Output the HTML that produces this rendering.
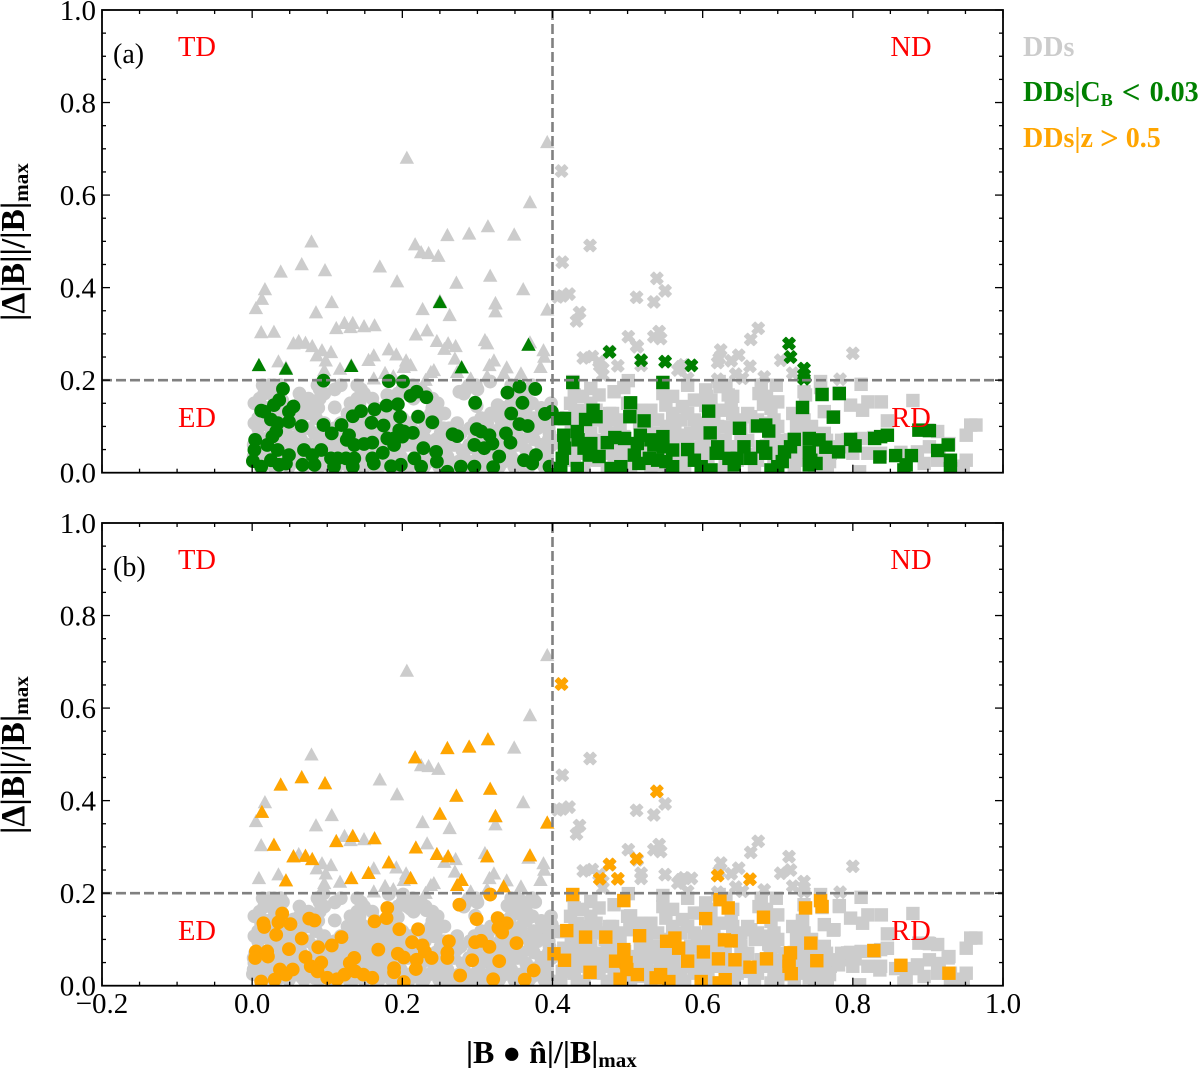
<!DOCTYPE html>
<html>
<head>
<meta charset="utf-8">
<title>DD scatter</title>
<style>
html,body{margin:0;padding:0;background:#fff;}
svg{display:block;}
text{font-family:"Liberation Serif","DejaVu Serif",serif;}
</style>
</head>
<body>
<svg id="chart" xmlns="http://www.w3.org/2000/svg" width="1200" height="1068" viewBox="0 0 1200 1068">
<rect x="0" y="0" width="1200" height="1068" fill="#fff"/>
<defs>
<clipPath id="clip-a"><rect x="102" y="10" width="901" height="462.7"/></clipPath>
<clipPath id="clip-b"><rect x="102" y="523" width="901" height="462.7"/></clipPath>
</defs>
<g id="panel-a"></g>
<g id="panel-b"></g>
<text x="1023" y="56" font-size="28" font-weight="bold" fill="#cccccc">DDs</text>
<text x="1023" y="101" font-size="28" font-weight="bold" fill="#008000">DDs|C<tspan font-size="18" dy="5">B</tspan><tspan dy="-5" dx="2"> </tspan><tspan font-size="33" dy="2">&lt;</tspan><tspan dy="-2" dx="2"> 0.03</tspan></text>
<text x="1023" y="147" font-size="28" font-weight="bold" fill="#ffa500">DDs|z <tspan font-size="33" dy="2">&gt;</tspan><tspan dy="-2"> 0.5</tspan></text>
<text transform="translate(24,321) rotate(-90)" font-size="33.5" font-weight="bold" fill="#000">|Δ|B||/|B|<tspan font-size="21" dy="4">max</tspan></text>
<text transform="translate(24,834) rotate(-90)" font-size="33.5" font-weight="bold" fill="#000">|Δ|B||/|B|<tspan font-size="21" dy="4">max</tspan></text>
<text x="466" y="1063" font-size="32" font-weight="bold" fill="#000">|B <tspan font-size="31">●</tspan> n̂|/|B|<tspan font-size="21" dy="4">max</tspan></text>
</svg>
<script>
const xTickValues = [-0.2, 0.0, 0.2, 0.4, 0.6, 0.8, 1.0];
const xTickLabels = ['−0.2', '0.0', '0.2', '0.4', '0.6', '0.8', '1.0'];
const yTickValues = [0.0, 0.2, 0.4, 0.6, 0.8, 1.0];
const yTickLabels = ['0.0', '0.2', '0.4', '0.6', '0.8', '1.0'];
const thresholdX = 0.4;
const thresholdY = 0.2;

const ddTriangles = [[.206,.681],[.393,.715],[.370,.585],[.079,.500],[.349,.515],[.225,.477],[.235,.475],[.248,.469],[.170,.446],[.193,.414],[.361,.397],[.017,.397],[.005,.356],[.106,.369],[.085,.347],[.227,.354],[.263,.341],[.324,.349],[.123,.324],[.131,.315],[.149,.317],[.012,.304],[.233,.308],[.256,.268],[.271,.274],[.310,.287],[.388,.265],[.389,.251],[.062,.285],[.086,.254],[.093,.265],[.105,.261],[.098,.243],[.035,.241],[.096,.222],[.117,.225],[.162,.254],[.192,.256],[.205,.243],[.202,.229],[.242,.222],[.238,.218],[.270,.247],[.316,.233],[.322,.243],[.339,.228],[.358,.215],[.384,.229],[.162,.204],[.177,.216],[.188,.209],[.231,.201],[.291,.204],[.313,.209],[.009,.233],[.324,.366],[.368,.277]];
const cbTriangles = [[.009,.233],[.045,.225],[.132,.231],[.279,.228],[.250,.369],[.368,.277]];
const zTriangles = [[.038,.435],[.066,.451],[.097,.438],[.013,.376],[.112,.313],[.134,.324],[.163,.319],[.029,.305],[.055,.280],[.071,.281],[.080,.274],[.045,.228],[.132,.233],[.155,.244],[.182,.267],[.211,.233],[.218,.299],[.246,.285],[.261,.280],[.250,.372],[.272,.411],[.217,.494],[.260,.514],[.289,.517],[.314,.533],[.317,.426],[.324,.367],[.313,.280],[.370,.282],[.279,.229],[.273,.218],[.335,.215],[.393,.353]];

const ddCrosses = [[.450,.491],[.413,.455],[.422,.386],[.413,.382],[.407,.380],[.436,.346],[.432,.328],[.550,.393],[.512,.379],[.535,.369],[.501,.294],[.542,.305],[.535,.294],[.544,.290],[.513,.272],[.674,.312],[.664,.288],[.624,.265],[.622,.247],[.648,.254],[.638,.242],[.644,.213],[.653,.204],[.682,.207],[.620,.202],[.704,.243],[.720,.215],[.800,.258],[.783,.202],[.441,.248],[.453,.251],[.462,.240],[.467,.225],[.467,.211],[.567,.222],[.571,.229],[.580,.204],[.575,.233],[.518,.232]];
const cbCrosses = [[.476,.261],[.518,.243],[.550,.240],[.585,.232],[.715,.279],[.717,.250],[.735,.225],[.735,.211],[.735,.203]];
const zCrosses = [[.412,.652],[.539,.420],[.476,.262],[.512,.274],[.463,.231],[.487,.231],[.620,.238],[.663,.230]];

const cbCircles = [[.095,.199],[.182,.198],[.201,.197],[.041,.181],[.036,.157],[.029,.146],[.012,.134],[.016,.132],[.049,.132],[.055,.143],[.049,.110],[.066,.101],[.025,.115],[.034,.107],[.032,.089],[.027,.078],[.004,.071],[.003,.049],[.001,.025],[.020,.060],[.034,.049],[.049,.038],[.025,.027],[.036,.017],[.012,.013],[.045,.020],[.069,.049],[.080,.038],[.092,.049],[.067,.017],[.083,.017],[.105,.031],[.114,.031],[.125,.031],[.136,.031],[.109,.013],[.134,.013],[.095,.103],[.106,.085],[.119,.103],[.126,.071],[.129,.081],[.149,.062],[.160,.065],[.136,.060],[.134,.122],[.145,.133],[.163,.137],[.159,.108],[.175,.102],[.179,.145],[.194,.148],[.197,.121],[.211,.166],[.219,.175],[.232,.163],[.221,.121],[.240,.109],[.160,.031],[.162,.020],[.174,.043],[.185,.014],[.198,.017],[.196,.092],[.189,.074],[.180,.074],[.202,.089],[.214,.086],[.189,.060],[.200,.078],[.228,.053],[.245,.045],[.246,.024],[.216,.031],[.225,.013],[.267,.083],[.273,.079],[.260,.002],[.278,.013],[.296,.013],[.299,.094],[.296,.060],[.316,.081],[.309,.053],[.320,.063],[.305,.089],[.297,.151],[.340,.173],[.356,.186],[.377,.181],[.360,.151],[.345,.128],[.356,.105],[.367,.101],[.338,.085],[.344,.065],[.329,.035],[.321,.012],[.362,.027],[.378,.038],[.373,.020],[.396,.013],[.390,.127],[.399,.132]];
const zCircles = [[.317,.197],[.040,.156],[.035,.137],[.051,.133],[.015,.135],[.016,.127],[.032,.110],[.076,.145],[.083,.141],[.066,.102],[.119,.105],[.106,.087],[.088,.083],[.049,.079],[.005,.074],[.004,.060],[.020,.074],[.021,.063],[.071,.062],[.092,.050],[.078,.042],[.087,.031],[.136,.060],[.130,.049],[.037,.035],[.054,.035],[.045,.024],[.030,.013],[.012,.009],[.100,.017],[.113,.014],[.123,.024],[.137,.031],[.148,.024],[.160,.017],[.168,.078],[.163,.139],[.180,.168],[.179,.146],[.196,.122],[.221,.122],[.213,.094],[.227,.087],[.194,.069],[.202,.061],[.219,.056],[.230,.074],[.239,.060],[.189,.038],[.189,.029],[.218,.036],[.202,.008],[.262,.096],[.260,.072],[.260,.060],[.276,.175],[.299,.144],[.327,.146],[.339,.135],[.328,.125],[.333,.115],[.297,.094],[.305,.097],[.316,.084],[.352,.092],[.329,.053],[.293,.055],[.277,.022],[.321,.014],[.363,.013],[.375,.033]];
const ddCircles = [[.012,.013],[.029,.013],[.049,.013],[.069,.013],[.089,.013],[.109,.013],[.129,.013],[.149,.013],[.169,.013],[.189,.013],[.209,.013],[.229,.013],[.249,.013],[.269,.013],[.289,.013],[.309,.013],[.329,.013],[.349,.013],[.369,.013],[.389,.013],[.002,.035],[.020,.035],[.060,.035],[.078,.035],[.100,.035],[.118,.035],[.138,.035],[.158,.035],[.178,.035],[.198,.035],[.220,.035],[.242,.035],[.260,.035],[.282,.035],[.302,.035],[.322,.035],[.345,.035],[.367,.035],[.393,.035],[.002,.060],[.016,.060],[.034,.060],[.054,.060],[.074,.060],[.096,.060],[.116,.060],[.140,.060],[.160,.060],[.180,.060],[.207,.060],[.238,.060],[.269,.060],[.289,.060],[.309,.060],[.327,.060],[.353,.060],[.385,.060],[.399,.060],[.027,.085],[.045,.085],[.063,.085],[.083,.085],[.105,.085],[.125,.085],[.149,.085],[.171,.085],[.194,.085],[.220,.085],[.251,.085],[.278,.085],[.300,.085],[.322,.085],[.349,.085],[.371,.085],[.396,.085],[.003,.107],[.016,.107],[.034,.107],[.056,.107],[.096,.107],[.118,.107],[.145,.107],[.167,.107],[.189,.107],[.211,.107],[.242,.107],[.273,.107],[.296,.107],[.313,.107],[.340,.107],[.362,.107],[.382,.107],[.016,.128],[.034,.128],[.074,.128],[.127,.128],[.149,.128],[.171,.128],[.238,.128],[.256,.128],[.318,.128],[.336,.128],[.358,.128],[.389,.128],[.003,.150],[.063,.150],[.078,.150],[.131,.150],[.143,.150],[.185,.150],[.247,.150],[.345,.150],[.373,.150],[.398,.150],[.110,.141],[.016,.171],[.025,.171],[.063,.171],[.096,.171],[.149,.171],[.194,.171],[.207,.171],[.216,.171],[.231,.171],[.282,.171],[.358,.171],[.014,.189],[.023,.189],[.029,.189],[.038,.189],[.087,.189],[.118,.189],[.140,.189],[.202,.189],[.214,.189],[.289,.189],[.298,.189],[.345,.189],[.353,.189],[.373,.189],
[.010,.024],[.040,.024],[.060,.024],[.080,.024],[.100,.024],[.120,.024],[.140,.024],[.170,.024],[.190,.024],[.210,.024],[.235,.024],[.255,.024],[.275,.024],[.295,.024],[.315,.024],[.335,.024],[.355,.024],[.380,.024],
[.012,.048],[.026,.048],[.045,.048],[.065,.048],[.085,.048],[.106,.048],[.128,.048],[.150,.048],[.170,.048],[.195,.048],[.225,.048],[.250,.048],[.280,.048],[.300,.048],[.318,.048],[.340,.048],[.365,.048],[.390,.048],
[.010,.072],[.025,.072],[.045,.072],[.065,.072],[.090,.072],[.110,.072],[.135,.072],[.155,.072],[.175,.072],[.215,.072],[.245,.072],[.262,.072],[.295,.072],[.335,.072],[.360,.072],[.375,.072],[.395,.072],
[.008,.096],[.025,.096],[.045,.096],[.075,.096],[.110,.096],[.135,.096],[.160,.096],[.180,.096],[.205,.096],[.230,.096],[.255,.096],[.290,.096],[.330,.096],[.352,.096],[.380,.096],[.395,.096],
[.008,.118],[.025,.118],[.045,.118],[.060,.118],[.085,.118],[.135,.118],[.160,.118],[.180,.118],[.200,.118],[.225,.118],[.245,.118],[.305,.118],[.330,.118],[.350,.118],[.375,.118],[.395,.118],
[.020,.140],[.040,.140],[.070,.140],[.088,.140],[.140,.140],[.165,.140],[.190,.140],[.240,.140],[.335,.140],[.365,.140],[.385,.140],
[.010,.160],[.030,.160],[.075,.160],[.090,.160],[.140,.160],[.160,.160],[.190,.160],[.215,.160],[.240,.160],[.350,.160],[.365,.160],
[.018,.180],[.034,.180],[.090,.180],[.110,.180],[.145,.180],[.200,.180],[.225,.180],[.285,.180],[.300,.180],[.350,.180],[.365,.180]];

const cbSquares = [[.427,.195],[.547,.195],[.504,.151],[.503,.121],[.522,.112],[.608,.133],[.610,.086],[.649,.096],[.673,.101],[.684,.103],[.688,.090],[.759,.169],[.782,.171],[.733,.141],[.774,.120],[.416,.117],[.407,.117],[.444,.115],[.454,.135],[.458,.121],[.415,.081],[.433,.089],[.434,.071],[.473,.065],[.483,.076],[.496,.074],[.517,.081],[.513,.063],[.531,.071],[.547,.078],[.560,.049],[.547,.056],[.535,.060],[.451,.063],[.442,.053],[.449,.038],[.462,.035],[.416,.053],[.413,.031],[.411,.009],[.433,.009],[.478,.009],[.491,.013],[.509,.038],[.515,.020],[.529,.031],[.540,.027],[.551,.024],[.560,.013],[.580,.050],[.589,.027],[.598,.013],[.611,.006],[.620,.056],[.618,.042],[.635,.031],[.642,.017],[.655,.056],[.664,.031],[.680,.056],[.684,.042],[.646,.031],[.722,.072],[.717,.056],[.709,.045],[.706,.024],[.700,.013],[.691,.006],[.742,.074],[.755,.071],[.764,.055],[.781,.045],[.742,.045],[.744,.027],[.751,.020],[.742,.017],[.797,.072],[.803,.058],[.829,.074],[.837,.078],[.846,.081],[.836,.034],[.857,.037],[.878,.037],[.871,.017],[.868,.006],[.888,.092],[.902,.091],[.913,.048],[.927,.060],[.930,.027],[.930,.009]];
const zSquares = [[.427,.197],[.495,.184],[.623,.186],[.634,.168],[.604,.145],[.681,.148],[.737,.168],[.757,.184],[.759,.171],[.419,.119],[.444,.105],[.471,.105],[.516,.108],[.552,.096],[.563,.103],[.568,.081],[.629,.099],[.638,.097],[.744,.092],[.828,.076],[.402,.069],[.416,.055],[.495,.078],[.484,.053],[.498,.050],[.450,.029],[.499,.035],[.513,.024],[.490,.014],[.544,.024],[.538,.017],[.555,.009],[.580,.053],[.601,.073],[.621,.058],[.643,.056],[.663,.040],[.685,.058],[.717,.071],[.715,.053],[.715,.042],[.718,.026],[.752,.054],[.864,.044],[.928,.027],[.598,.009],[.630,.013],[.622,.006]];
const ddSquares = [[.501,.199],[.580,.189],[.622,.197],[.678,.189],[.698,.189],[.735,.175],[.757,.197],[.782,.173],[.811,.191],[.451,.182],[.462,.168],[.429,.168],[.424,.150],[.482,.175],[.547,.171],[.604,.179],[.631,.189],[.675,.171],[.700,.153],[.691,.139],[.797,.146],[.820,.153],[.813,.135],[.838,.153],[.880,.156],[.762,.132],[.775,.121],[.733,.139],[.846,.112],[.846,.081],[.913,.089],[.900,.092],[.957,.103],[.951,.081],[.964,.103],[.451,.150],[.458,.135],[.476,.128],[.433,.135],[.500,.150],[.518,.135],[.531,.135],[.551,.146],[.573,.143],[.589,.157],[.593,.107],[.611,.157],[.638,.150],[.624,.135],[.664,.121],[.682,.107],[.726,.107],[.766,.053],[.793,.071],[.811,.074],[.837,.042],[.886,.045],[.902,.056],[.928,.063],[.915,.035],[.895,.020],[.913,.027],[.951,.027],[.947,.014],[.809,.002],[.769,.024],[.762,.013],[.429,.114],[.460,.114],[.487,.114],[.540,.114],[.571,.114],[.589,.114],[.615,.114],[.651,.114],[.673,.114],[.695,.114],[.735,.114],[.429,.085],[.451,.085],[.473,.085],[.535,.085],[.584,.085],[.615,.085],[.651,.085],[.695,.085],[.731,.085],[.762,.085],[.429,.056],[.460,.056],[.518,.056],[.544,.056],[.562,.056],[.598,.056],[.633,.056],[.651,.056],[.678,.056],[.695,.056],[.731,.056],[.771,.056],[.785,.056],[.429,.027],[.460,.027],[.482,.027],[.531,.027],[.571,.027],[.607,.027],[.646,.027],[.673,.027],[.695,.027],[.735,.027],[.762,.027],[.411,.009],[.442,.009],[.473,.009],[.504,.009],[.531,.009],[.576,.009],[.607,.009],[.638,.009],[.669,.009],[.695,.009],[.722,.009],[.749,.009],[.766,.009],
[.425,.042],[.445,.042],[.470,.042],[.490,.042],[.510,.042],[.525,.042],[.555,.042],[.585,.042],[.605,.042],[.625,.042],[.650,.042],[.675,.042],[.700,.042],[.720,.042],[.745,.042],[.770,.042],[.800,.042],[.820,.042],
[.425,.070],[.445,.070],[.465,.070],[.490,.070],[.525,.070],[.555,.070],[.580,.070],[.605,.070],[.630,.070],[.660,.070],[.690,.070],[.710,.070],[.740,.070],[.765,.070],[.785,.070],
[.425,.100],[.445,.100],[.470,.100],[.490,.100],[.525,.100],[.555,.100],[.600,.100],[.620,.100],[.645,.100],[.670,.100],[.700,.100],[.725,.100],[.745,.100],
[.430,.128],[.450,.128],[.480,.128],[.510,.128],[.530,.128],[.560,.128],[.580,.128],[.610,.128],[.640,.128],[.660,.128],[.720,.128],
[.440,.165],[.560,.165],[.605,.165],[.640,.165],[.685,.165]];

const SVG_NS = 'http://www.w3.org/2000/svg';
const PLOT_LEFT = 102;
const PLOT_WIDTH = 901;
const PLOT_HEIGHT = 462.7;
const X_MIN = -0.2;
const X_MAX = 1.0;
const GRAY = '#cccccc';
const GREEN = '#008000';
const ORANGE = '#ffa500';

function xScale(v) {
  return PLOT_LEFT + (v - X_MIN) / (X_MAX - X_MIN) * PLOT_WIDTH;
}

function yScale(v, top) {
  return top + PLOT_HEIGHT - v * PLOT_HEIGHT;
}

function create(tag, parent) {
  const el = document.createElementNS(SVG_NS, tag);
  parent.appendChild(el);
  return el;
}

function drawLine(parent, x1, y1, x2, y2, width, name) {
  const el = create('line', parent);
  el.setAttribute('x1', x1);
  el.setAttribute('y1', y1);
  el.setAttribute('x2', x2);
  el.setAttribute('y2', y2);
  el.setAttribute('stroke', '#000');
  el.setAttribute('stroke-width', width);
  
  
  return el;
}

function drawText(parent, x, y, str, size, fill, anchor, name) {
  const el = create('text', parent);
  el.setAttribute('x', x);
  el.setAttribute('y', y);
  el.setAttribute('font-size', size);
  el.setAttribute('fill', fill);
  el.setAttribute('text-anchor', anchor);
  el.textContent = str;
  
  
  return el;
}

function drawMarker(parent, shape, px, py, color, name) {
  let el;
  if (shape === 'circle') {
    el = create('circle', parent);
    el.setAttribute('cx', px);
    el.setAttribute('cy', py);
    el.setAttribute('r', 6.9);
  } else if (shape === 'square') {
    el = create('rect', parent);
    el.setAttribute('x', px - 6.7);
    el.setAttribute('y', py - 6.7);
    el.setAttribute('width', 13.4);
    el.setAttribute('height', 13.4);
  } else if (shape === 'triangle') {
    el = create('polygon', parent);
    el.setAttribute('points', (px - 7.2) + ',' + (py + 6.2) + ' ' + (px + 7.2) + ',' + (py + 6.2) + ' ' + px + ',' + (py - 7));
  } else {
    el = create('polygon', parent);
    const s = 6.1;
    const unit = [-.5,-1, 0,-.5, .5,-1, 1,-.5, .5,0, 1,.5, .5,1, 0,.5, -.5,1, -1,.5, -.5,0, -1,-.5];
    const pts = [];
    for (let i = 0; i < unit.length; i += 2) {
      pts.push((px + unit[i] * s) + ',' + (py + unit[i + 1] * s));
    }
    el.setAttribute('points', pts.join(' '));
    el.setAttribute('stroke', color);
    el.setAttribute('stroke-width', 1.4);
    el.setAttribute('stroke-linejoin', 'round');
  }
  el.setAttribute('fill', color);
  
  
  return el;
}

function drawSeries(parent, points, shape, color, top, name) {
  points.forEach(function (p) {
    drawMarker(parent, shape, xScale(p[0]), yScale(p[1], top), color, name);
  });
}

function drawPanel(id, top, clipId, panelLabel, overlay, overlayColor, overlayName, showXLabels) {
  const root = document.getElementById(id);
  const marks = create('g', root);
  marks.setAttribute('clip-path', 'url(#' + clipId + ')');
  
  

  drawSeries(marks, ddCircles, 'circle', GRAY, top, 'dd-point-ed');
  drawSeries(marks, cbCircles, 'circle', GRAY, top, 'dd-point-ed');
  drawSeries(marks, zCircles, 'circle', GRAY, top, 'dd-point-ed');
  drawSeries(marks, ddSquares, 'square', GRAY, top, 'dd-point-rd');
  drawSeries(marks, cbSquares, 'square', GRAY, top, 'dd-point-rd');
  drawSeries(marks, zSquares, 'square', GRAY, top, 'dd-point-rd');
  drawSeries(marks, ddTriangles, 'triangle', GRAY, top, 'dd-point-td');
  drawSeries(marks, zTriangles, 'triangle', GRAY, top, 'dd-point-td');
  drawSeries(marks, ddCrosses, 'cross', GRAY, top, 'dd-point-nd');
  drawSeries(marks, cbCrosses, 'cross', GRAY, top, 'dd-point-nd');
  drawSeries(marks, zCrosses, 'cross', GRAY, top, 'dd-point-nd');

  drawSeries(marks, overlay.circles, 'circle', overlayColor, top, overlayName + '-point-ed');
  drawSeries(marks, overlay.squares, 'square', overlayColor, top, overlayName + '-point-rd');
  drawSeries(marks, overlay.triangles, 'triangle', overlayColor, top, overlayName + '-point-td');
  drawSeries(marks, overlay.crosses, 'cross', overlayColor, top, overlayName + '-point-nd');

  const vLine = drawLine(root, xScale(thresholdX), top, xScale(thresholdX), top + PLOT_HEIGHT, 2.6, 'threshold-line-x');
  vLine.setAttribute('stroke', '#808080');
  vLine.setAttribute('stroke-dasharray', '10 4');
  const hLine = drawLine(root, PLOT_LEFT, yScale(thresholdY, top), PLOT_LEFT + PLOT_WIDTH, yScale(thresholdY, top), 2.6, 'threshold-line-y');
  hLine.setAttribute('stroke', '#808080');
  hLine.setAttribute('stroke-dasharray', '10 4');

  const frame = create('rect', root);
  frame.setAttribute('x', PLOT_LEFT);
  frame.setAttribute('y', top);
  frame.setAttribute('width', PLOT_WIDTH);
  frame.setAttribute('height', PLOT_HEIGHT);
  frame.setAttribute('fill', 'none');
  frame.setAttribute('stroke', '#000');
  frame.setAttribute('stroke-width', 1.8);
  
  

  const bottom = top + PLOT_HEIGHT;
  for (let i = 0; i <= 24; i++) {
    const xv = X_MIN + i * 0.05;
    const len = i % 4 === 0 ? 8 : 4;
    const px = xScale(xv);
    drawLine(root, px, bottom, px, bottom - len, 1.3, 'x-tick');
    drawLine(root, px, top, px, top + len, 1.3, 'x-tick-top');
  }
  for (let i = 0; i <= 20; i++) {
    const yv = i * 0.05;
    const len = i % 4 === 0 ? 8 : 4;
    const py = yScale(yv, top);
    drawLine(root, PLOT_LEFT, py, PLOT_LEFT + len, py, 1.3, 'y-tick');
    drawLine(root, PLOT_LEFT + PLOT_WIDTH, py, PLOT_LEFT + PLOT_WIDTH - len, py, 1.3, 'y-tick-right');
  }

  yTickValues.forEach(function (v, i) {
    drawText(root, 96, yScale(v, top) + 10, yTickLabels[i], 29, '#000', 'end', 'y-tick-label');
  });
  if (showXLabels) {
    xTickValues.forEach(function (v, i) {
      drawText(root, xScale(v), 1013, xTickLabels[i], 29, '#000', 'middle', 'x-tick-label');
    });
  }

  drawText(root, 197, top + 46, 'TD', 28.5, '#ff0000', 'middle', 'region-label-td');
  drawText(root, 911, top + 46, 'ND', 28.5, '#ff0000', 'middle', 'region-label-nd');
  drawText(root, 197, top + 417, 'ED', 28.5, '#ff0000', 'middle', 'region-label-ed');
  drawText(root, 911, top + 417, 'RD', 28.5, '#ff0000', 'middle', 'region-label-rd');
  drawText(root, 113, top + 53, panelLabel, 28, '#000', 'start', 'panel-label');
}

drawPanel('panel-a', 10, 'clip-a', '(a)', {
  circles: cbCircles,
  squares: cbSquares,
  triangles: cbTriangles,
  crosses: cbCrosses
}, GREEN, 'cb', false);

drawPanel('panel-b', 523, 'clip-b', '(b)', {
  circles: zCircles,
  squares: zSquares,
  triangles: zTriangles,
  crosses: zCrosses
}, ORANGE, 'z', true);
</script>
</body>
</html>
